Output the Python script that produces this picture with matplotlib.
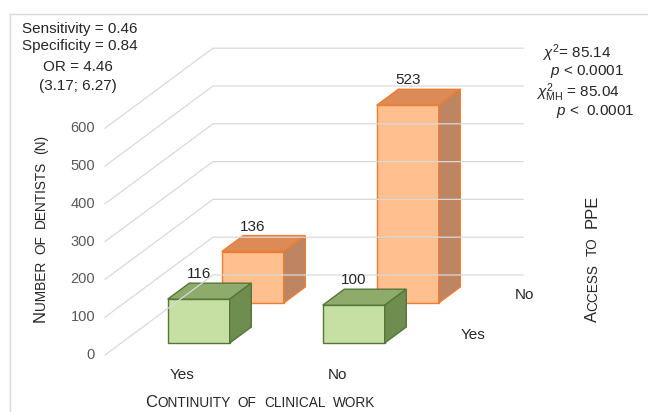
import matplotlib
matplotlib.use("Agg")
import matplotlib.pyplot as plt
from matplotlib.patches import Polygon
from matplotlib.lines import Line2D
from matplotlib.transforms import IdentityTransform

plt.rcParams['font.family'] = ['Liberation Sans', 'DejaVu Sans']
plt.rcParams['mathtext.fontset'] = 'custom'
plt.rcParams['mathtext.rm'] = 'Liberation Sans'
plt.rcParams['mathtext.it'] = 'Liberation Sans:italic'

# continuity of clinical work (x) vs access to PPE (depth rows)
categories = ['Yes', 'No']
rows = ['Yes', 'No']
ppe_yes = [116, 100]
ppe_no = [136, 523]
yticks = [0, 100, 200, 300, 400, 500, 600]

W, H = 648, 412
# pixel layout of the oblique projection
X0, UX = 105, 155.0      # left wall x, pixels per category
Y0, UY = 355, 0.378      # floor y (from top), pixels per count
DX = 54 / UX             # category units per depth unit
DY = 40 / UY             # count units per depth unit

fig = plt.figure(figsize=(W / 100, H / 100), dpi=100)
ax = fig.add_axes([0, 0, 1, 1])
ax.set_xlim(-X0 / UX, (W - X0) / UX)
ax.set_ylim(-(H - Y0) / UY, Y0 / UY)
ax.axis('off')


def proj(x, d, z):
    return (x + DX * d, z + DY * d)


# side wall and back wall gridlines
grid = '#d9d9d9'
for v in yticks:
    a, b, c = proj(0, 0, v), proj(0, 2, v), proj(2, 2, v)
    ax.plot([a[0], b[0], c[0]], [a[1], b[1], c[1]], color=grid, lw=0.9)
    ax.annotate(str(v), xy=a, xytext=(-10, 0), textcoords='offset pixels',
                ha='right', va='center', fontsize=10.5, color='#595959')


def bar3d(xc, d0, z, front, top, side, edge, w=0.4, depth=0.4):
    x0, x1, d1 = xc - w / 2, xc + w / 2, d0 + depth
    faces = [
        ([(x0, d0, 0), (x1, d0, 0), (x1, d0, z), (x0, d0, z)], front),
        ([(x0, d0, z), (x1, d0, z), (x1, d1, z), (x0, d1, z)], top),
        ([(x1, d0, 0), (x1, d1, 0), (x1, d1, z), (x1, d0, z)], side),
    ]
    for pts, col in faces:
        ax.add_patch(Polygon([proj(*p) for p in pts], closed=True,
                             facecolor=col, edgecolor=edge, lw=1.0,
                             joinstyle='miter'))
    ax.annotate(str(z), xy=proj(xc, d0, z + DY * depth), xytext=(0, 2),
                textcoords='offset pixels', ha='center', va='bottom',
                fontsize=11, color='#262626')


# back row (no access) first, then front row
for i, v in enumerate(ppe_no):
    bar3d(i + 0.5, 1.3, v, '#ffbf8f', '#dc8a56', '#bd8562', '#ed7d31')
for i, v in enumerate(ppe_yes):
    bar3d(i + 0.5, 0.3, v, '#c6e0a4', '#8fab6b', '#6f8d4f', '#55763a')

for i, c in enumerate(categories):
    ax.annotate(c, xy=proj(i + 0.5, 0, 0), xytext=(0, -20),
                textcoords='offset pixels', ha='center', va='center',
                fontsize=11, color='#262626')
for j, r in enumerate(rows):
    ax.annotate(r, xy=proj(2, j + 0.5, 0), xytext=(19, 0),
                textcoords='offset pixels', ha='left', va='center',
                fontsize=11, color='#262626')

# statistics
tc = '#262626'
fs = 11
fig.text(22 / W, 1 - 29 / H, 'Sensitivity = 0.46', ha='left', va='center', fontsize=fs, color=tc)
fig.text(22 / W, 1 - 46 / H, 'Specificity = 0.84', ha='left', va='center', fontsize=fs, color=tc)
fig.text(78 / W, 1 - 67 / H, 'OR = 4.46', ha='center', va='center', fontsize=fs, color=tc)
fig.text(78 / W, 1 - 86 / H, '(3.17; 6.27)', ha='center', va='center', fontsize=fs, color=tc)
fig.text(542 / W, 1 - 53 / H, r'$\chi^2$= 85.14', ha='left', va='center', fontsize=fs, color=tc)
fig.text(550 / W, 1 - 72 / H, r'$p$ < 0.0001', ha='left', va='center', fontsize=fs, color=tc)
fig.text(536 / W, 1 - 93 / H, r'$\chi^2_{\mathrm{MH}}$ = 85.04', ha='left', va='center', fontsize=fs, color=tc)
fig.text(556 / W, 1 - 112 / H, r'$p$ <  0.0001', ha='left', va='center', fontsize=fs, color=tc)

# chart area border
fig.add_artist(Line2D([10 / W, 1], [1 - 14 / H, 1 - 14 / H], color=grid, lw=1))
fig.add_artist(Line2D([10 / W, 10 / W], [0, 1 - 14 / H], color=grid, lw=1))


def smallcaps(words, x, y, length, vertical=False):
    # words: list of [(text, size), ...]; spreads the words over length px
    renderer = fig.canvas.get_renderer()
    placed = []
    total = 0
    for word in words:
        items = []
        for s, size in word:
            t = fig.text(0, 0, s, fontsize=size, color='#262626',
                         transform=IdentityTransform(), ha='left',
                         va='baseline', rotation=90 if vertical else 0,
                         rotation_mode='anchor')
            bb = t.get_window_extent(renderer)
            wd = bb.height if vertical else bb.width
            items.append((t, wd))
            total += wd
        placed.append(items)
    gap = (length - total) / (len(words) - 1)
    pos = y if vertical else x
    for items in placed:
        for t, wd in items:
            t.set_position((x, pos) if vertical else (pos, y))
            pos += wd
        pos += gap


B, S = 12, 9.8
smallcaps([[('C', B), ('ONTINUITY', S)], [('OF', S)], [('CLINICAL', S)], [('WORK', S)]],
          145, H - 407, 230)
smallcaps([[('N', B), ('UMBER', S)], [('OF', S)], [('DENTISTS', S)], [('(N)', S)]],
          45, H - 322, 187, vertical=True)
smallcaps([[('A', B), ('CCESS', S)], [('TO', S)], [('PPE', B)]],
          597, H - 322, 127, vertical=True)

fig.savefig('out.png', dpi=100, facecolor='white')
